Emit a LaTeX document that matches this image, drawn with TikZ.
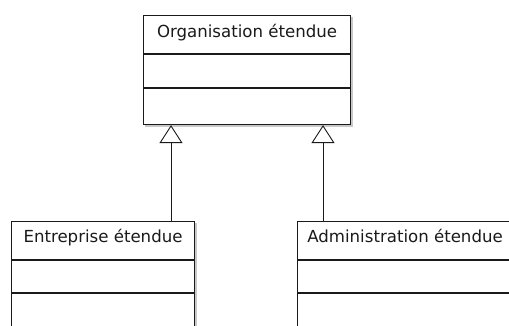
\documentclass[tikz,border=0pt]{standalone}
\usepackage{fontspec}
\setmainfont{DejaVu Sans}
\usetikzlibrary{arrows.meta}
\definecolor{umlline}{HTML}{1A1A1A}
\definecolor{umlshadow}{HTML}{C8C8C8}
\tikzset{
  classbox/.style={draw=umlline, line width=1.1pt, fill=white, rectangle, anchor=north west, inner sep=0pt},
  classshadow/.style={fill=umlshadow, draw=none},
  classname/.style={anchor=base, inner sep=0pt, font=\fontsize{16.6pt}{18pt}\selectfont, text=umlline},
  sepline/.style={draw=umlline, line width=1.1pt},
  gen/.style={draw=umlline, line width=0.9pt, -{Triangle[open, length=18pt, width=23pt, line width=0.9pt, fill=white]}},
}
\begin{document}
\begin{tikzpicture}[x=1pt, y=1pt]
\useasboundingbox (0,0) rectangle (509,-325);
\clip (0,0) rectangle (509,-325);
% shadows
\fill[classshadow] (145,-17) rectangle (352.5,-126.5);
\fill[classshadow] (13,-223) rectangle (196.5,-340);
\fill[classshadow] (299,-223) rectangle (515,-340);
% top class
\node[classbox, minimum width=207pt, minimum height=109pt] (org) at (143,-15) {};
\draw[sepline] ([yshift=-39pt]org.north west) -- ([yshift=-39pt]org.north east);
\draw[sepline] ([yshift=-73pt]org.north west) -- ([yshift=-73pt]org.north east);
\node[classname] (orgname) at ([yshift=-22pt]org.north) {Organisation étendue};
% left class
\node[classbox, minimum width=183pt, minimum height=130pt] (ent) at (11,-221) {};
\draw[sepline] ([yshift=-39pt]ent.north west) -- ([yshift=-39pt]ent.north east);
\draw[sepline] ([yshift=-72pt]ent.north west) -- ([yshift=-72pt]ent.north east);
\node[classname] (entname) at ([yshift=-21pt]ent.north) {Entreprise étendue};
% right class
\node[classbox, minimum width=215pt, minimum height=130pt] (adm) at (297,-221) {};
\draw[sepline] ([yshift=-39pt]adm.north west) -- ([yshift=-39pt]adm.north east);
\draw[sepline] ([yshift=-72pt]adm.north west) -- ([yshift=-72pt]adm.north east);
\node[classname] (admname) at ([yshift=-21pt]adm.north) {Administration étendue};
% generalisations
\coordinate (e1) at ([xshift=160pt]ent.north west);
\coordinate (a1) at ([xshift=26pt]adm.north west);
\draw[gen] (e1) -- (e1 |- org.south);
\draw[gen] (a1) -- (a1 |- org.south);
\end{tikzpicture}
\end{document}
